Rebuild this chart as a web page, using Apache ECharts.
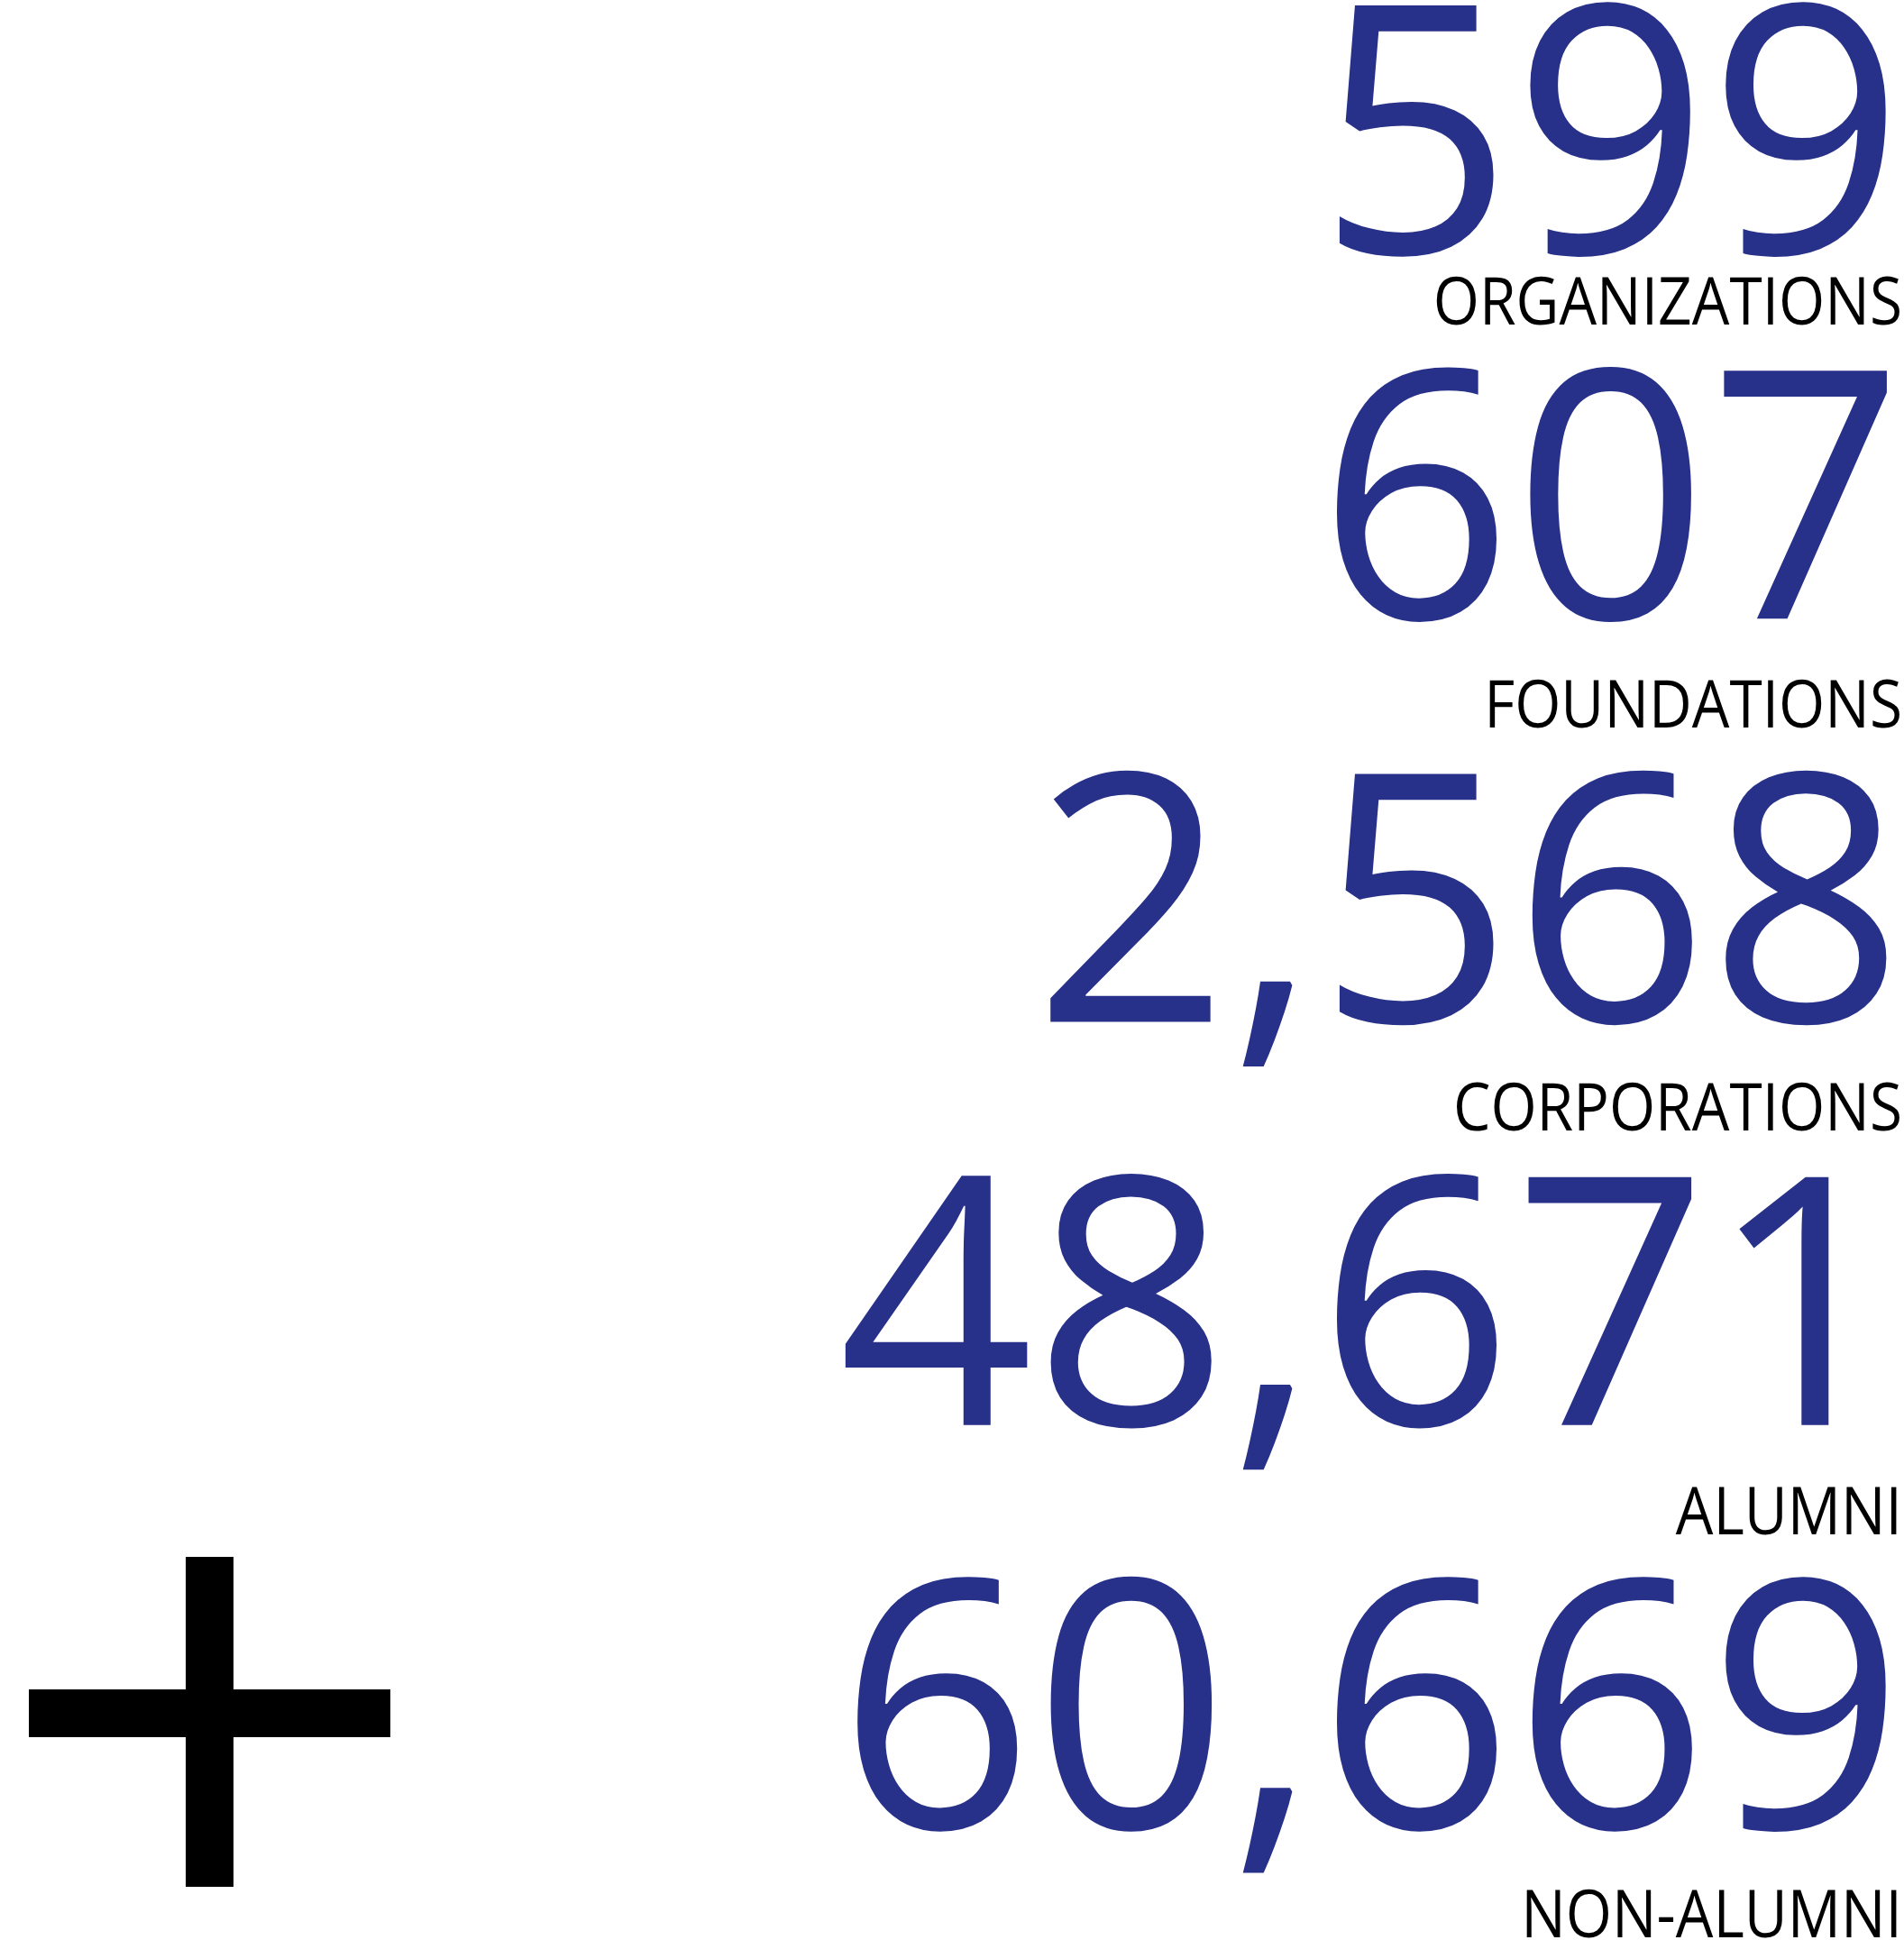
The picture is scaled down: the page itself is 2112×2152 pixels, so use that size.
<!DOCTYPE html>
<html>
<head>
<meta charset="utf-8">
<script src="https://cdn.jsdelivr.net/npm/echarts@6/dist/echarts.min.js"></script>
<style>
html,body{margin:0;padding:0;background:#fff;}
#chart{width:2112px;height:2152px;}
</style>
</head>
<body>
<div id="chart"></div>
<script>
// ---- data ----
const categories = ['ORGANIZATIONS', 'FOUNDATIONS', 'CORPORATIONS', 'ALUMNI', 'NON-ALUMNI'];
const counts = [599, 607, 2568, 48671, 60669];

// ---- styles ----
const numberColor = '#283189';
const labelColor = '#000000';
const fontFamily = '"Open Sans", "Noto Sans", sans-serif';
const numberSize = 385;
const labelSize = 74;

const chart = echarts.init(document.getElementById('chart'), null, {renderer: 'canvas'});

const seriesData = counts.map((v, i) => [1, i, v]);

chart.setOption({
  animation: false,
  backgroundColor: '#ffffff',
  grid: {left: 0, right: 2, top: 360, bottom: 3},
  xAxis: {type: 'value', min: 0, max: 1, show: false},
  yAxis: {type: 'category', data: categories, inverse: true, boundaryGap: false, show: false},
  graphic: [
    {type: 'rect', shape: {x: 32, y: 1874, width: 401, height: 53}, style: {fill: '#000'}},
    {type: 'rect', shape: {x: 206, y: 1727, width: 53, height: 366}, style: {fill: '#000'}}
  ],
  series: [{
    type: 'custom',
    clip: false,
    data: seriesData,
    renderItem: function (params, api) {
      const idx = params.dataIndex;
      const pt = api.coord([api.value(0), api.value(1)]);
      const baseline = pt[1];
      const numBaseline = baseline - (idx === 0 ? 79 : 121);
      return {
        type: 'group',
        children: [
          {
            type: 'text',
            x: pt[0], y: baseline - 0.285 * labelSize,
            scaleX: 0.89,
            style: {
              text: categories[idx],
              fill: labelColor,
              font: 'normal 400 ' + labelSize + 'px ' + fontFamily,
              align: 'right',
              verticalAlign: 'middle'
            }
          },
          {
            type: 'text',
            x: pt[0] + 2, y: numBaseline - 0.285 * numberSize,
            scaleX: 0.985,
            style: {
              text: Number(api.value(2)).toLocaleString('en-US'),
              fill: numberColor,
              font: 'normal 400 ' + numberSize + 'px ' + fontFamily,
              align: 'right',
              verticalAlign: 'middle'
            }
          }
        ]
      };
    }
  }]
});
</script>
</body>
</html>
